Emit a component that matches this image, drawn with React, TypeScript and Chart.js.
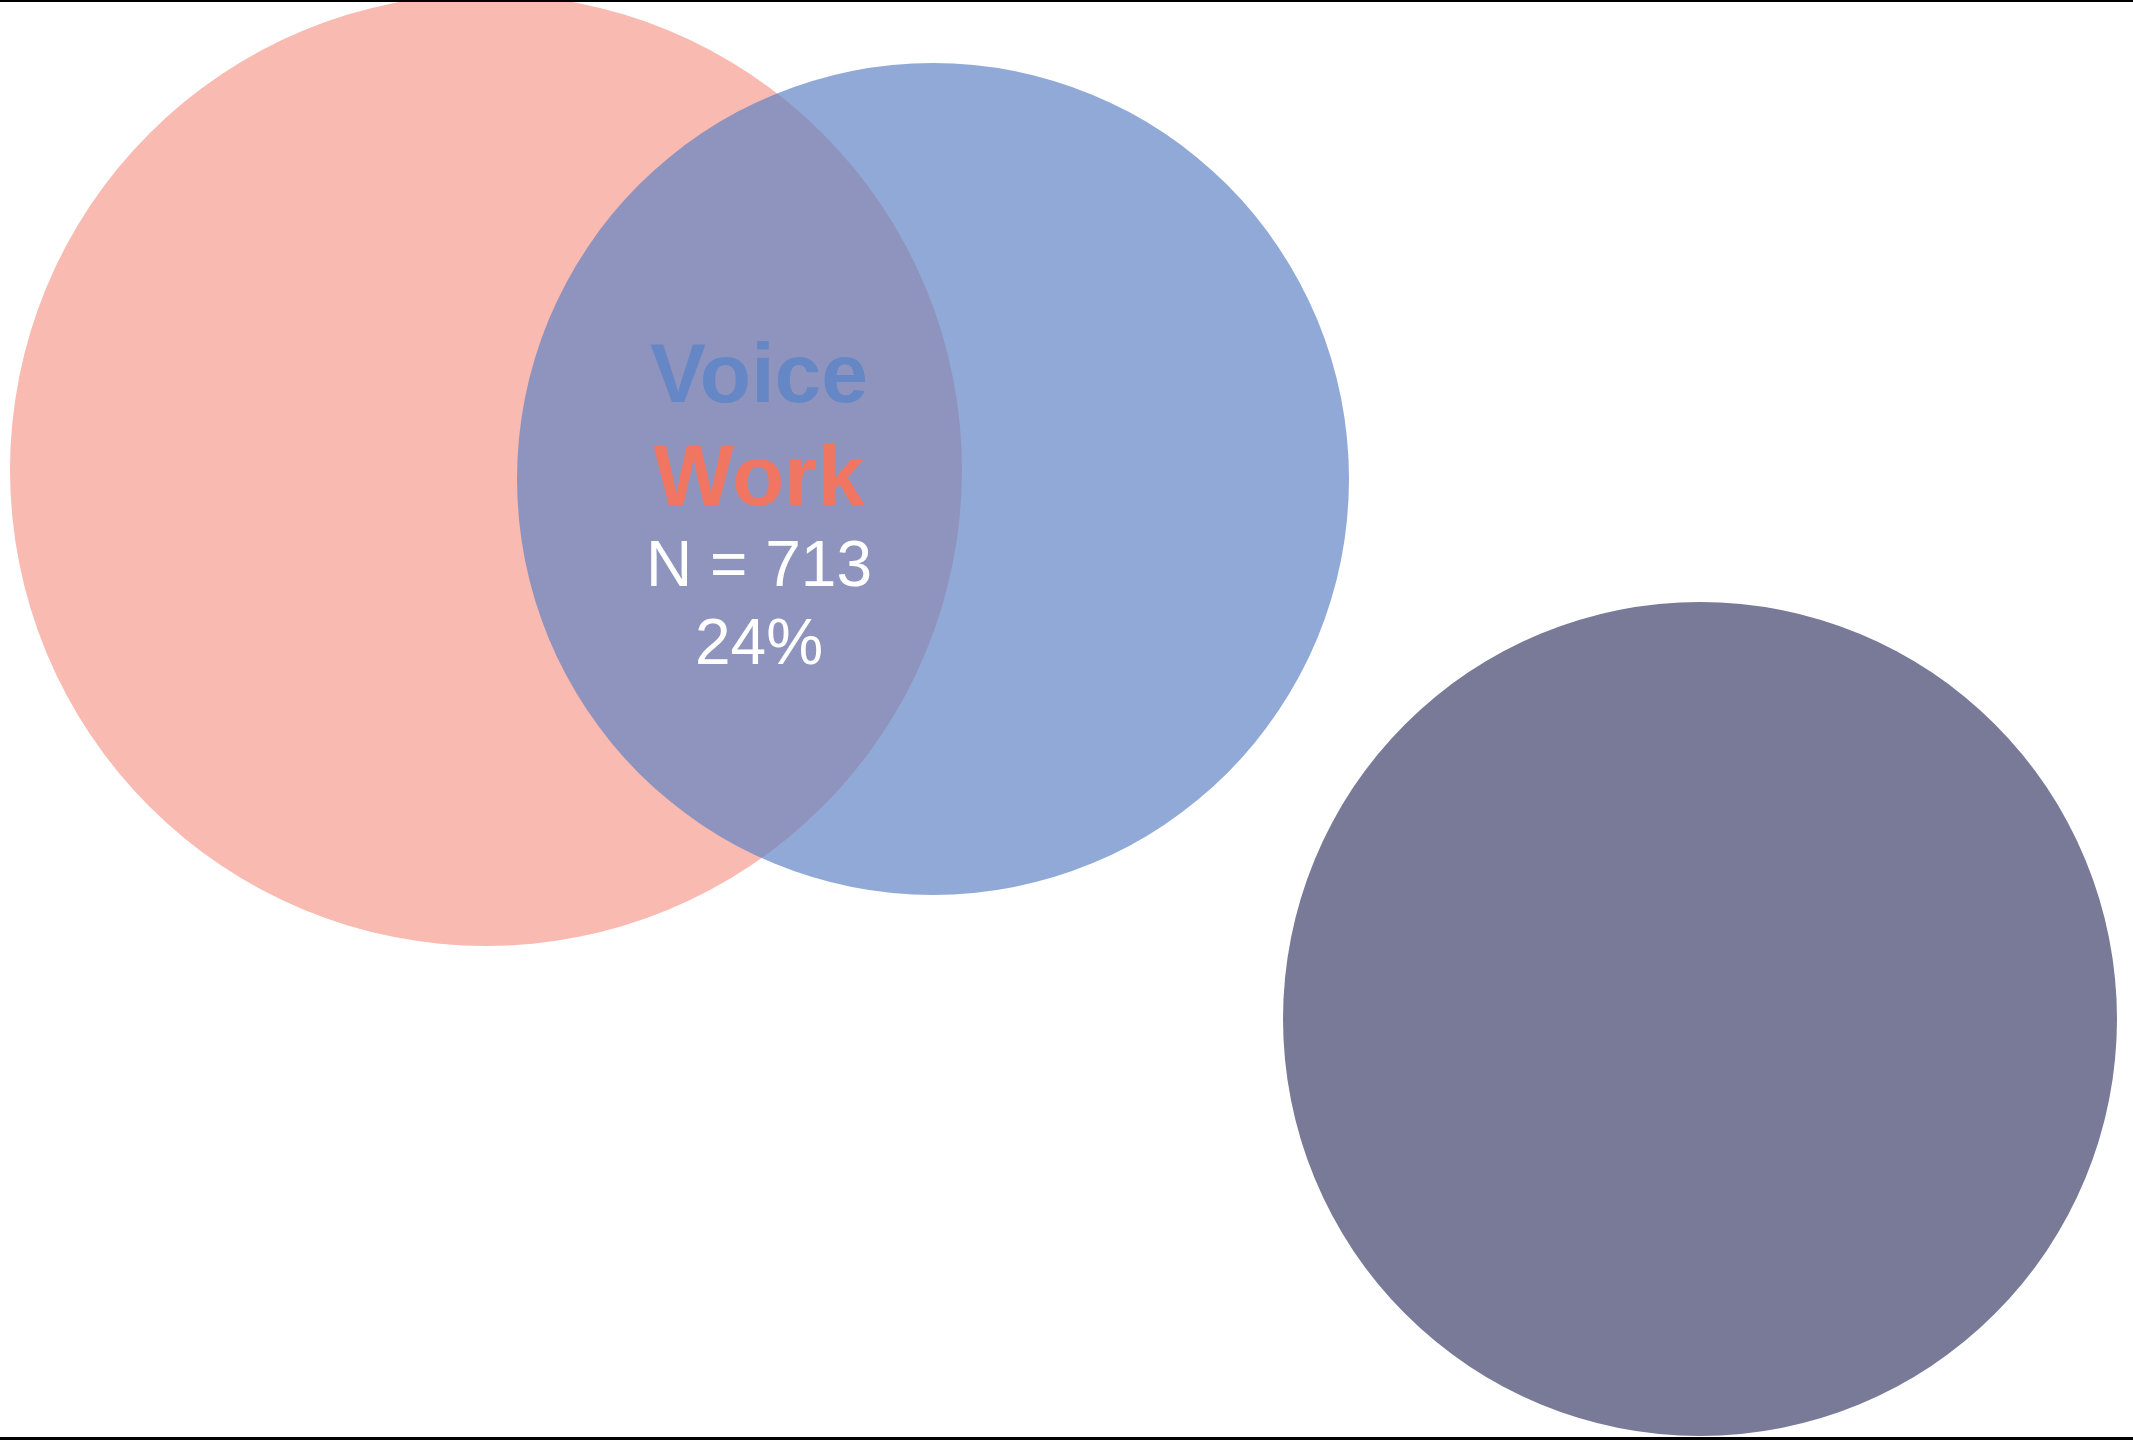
import React, { useEffect, useRef } from "react";
import { Chart, registerables } from "chart.js";

Chart.register(...registerables);

// ---- data (units: 1 unit = 100 px on both axes) ----
const setNames = ["Work", "Voice", "Other"];
const centerX = [4.86, 9.33, 17.0];
const centerY = [9.7, 9.61, 4.21];
const radius = [4.76, 4.16, 4.17];

const labelLines = ["Voice", "Work", "N = 713", "24%"];
const labelAnchor = { x: 7.59, y: 10.38 };

const W = 2133;
const H = 1440;

const fills = ["rgb(249,186,178)", "rgba(99,132,196,0.7)", "rgb(120,122,152)"];
const drawOrder = [3, 2, 1];

const FAMILY = "Arial, 'Liberation Sans', Helvetica, sans-serif";
const lineStyles = [
  { font: `bold 84px ${FAMILY}`, color: "#6587C6", dy: 0 },
  { font: `bold 85px ${FAMILY}`, color: "#F07662", dy: 103 },
  { font: `64px ${FAMILY}`, color: "#FFFFFF", dy: 184 },
  { font: `64px ${FAMILY}`, color: "#FFFFFF", dy: 262 },
];

const overlayPlugin = {
  id: "vennOverlay",
  afterDatasetsDraw(chart: any) {
    const ctx = chart.ctx;
    const xs = chart.scales.x;
    const ys = chart.scales.y;
    const px = xs.getPixelForValue(labelAnchor.x);
    const py = ys.getPixelForValue(labelAnchor.y);
    ctx.save();
    ctx.textAlign = "center";
    ctx.textBaseline = "alphabetic";
    labelLines.forEach((t, i) => {
      const st = lineStyles[i];
      ctx.font = st.font;
      ctx.fillStyle = st.color;
      ctx.fillText(t, px, py + st.dy);
    });
    ctx.restore();
  },
  afterDraw(chart: any) {
    const ctx = chart.ctx;
    const a = chart.chartArea;
    ctx.save();
    ctx.fillStyle = "#000";
    ctx.fillRect(a.left, a.top, a.right - a.left, 2);
    ctx.fillRect(a.left, a.bottom - 3, a.right - a.left, 3);
    ctx.restore();
  },
};

export default function App() {
  const ref = useRef<HTMLCanvasElement | null>(null);

  useEffect(() => {
    document.body.style.margin = "0";
    document.body.style.overflow = "hidden";
    const canvas = ref.current;
    if (!canvas) return;
    const pxRadius = (c: any) => {
      const s = c.chart.scales.x;
      if (!s) return 0;
      const r = radius[c.datasetIndex];
      return Math.abs(s.getPixelForValue(r) - s.getPixelForValue(0));
    };
    const chart = new Chart(canvas, {
      type: "scatter",
      data: {
        datasets: setNames.map((name, i) => ({
          label: name,
          data: [{ x: centerX[i], y: centerY[i] }],
          backgroundColor: fills[i],
          borderWidth: 0,
          pointRadius: pxRadius,
          pointHoverRadius: pxRadius,
          order: drawOrder[i],
          clip: false as any,
        })),
      },
      options: {
        animation: false,
        responsive: false,
        devicePixelRatio: 1,
        events: [],
        layout: { padding: 0 },
        plugins: {
          legend: { display: false },
          tooltip: { enabled: false },
          title: { display: false },
        },
        scales: {
          x: { type: "linear", min: 0, max: W / 100, display: false },
          y: { type: "linear", min: 0, max: H / 100, display: false },
        },
      },
      plugins: [overlayPlugin],
    });
    return () => chart.destroy();
  }, []);

  return (
    <div style={{ width: W, height: H, background: "#fff" }}>
      <canvas ref={ref} width={W} height={H} style={{ display: "block", width: W, height: H }} />
    </div>
  );
}
